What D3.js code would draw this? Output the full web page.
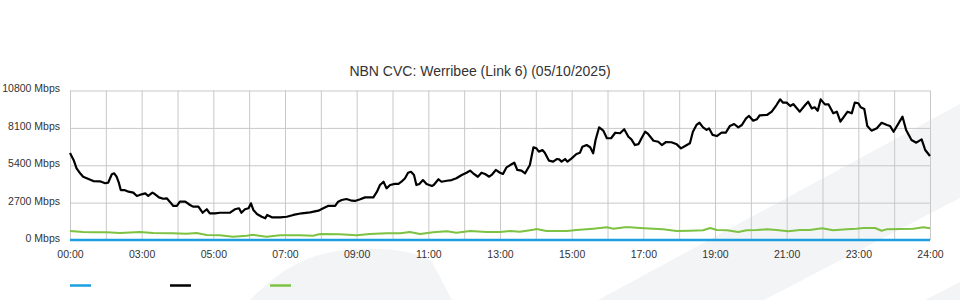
<!DOCTYPE html>
<html>
<head>
<meta charset="utf-8">
<script src="https://cdn.jsdelivr.net/npm/d3@7"></script>
<style>
  body { margin: 0; background: #fff; }
  svg { display: block; font-family: "Liberation Sans", Arial, sans-serif; }
  .grid line { stroke: #c8c8c8; stroke-width: 1; }
  .grid path { display: none; }
  .axis text { fill: #333; font-size: 10.5px; }
  .axis path, .axis line { display: none; }
</style>
</head>
<body>
<div class="canvas"></div>
<script>
// chart data (minutes since midnight, Mbps)
const title = 'NBN CVC: Werribee (Link 6) (05/10/2025)';

const blackMins = [0,6,11,17,22,31,39,50,59,64,70,74,78,82,85,91,98,106,112,120,126,131,138,142,149,156,162,167,173,179,
  184,193,201,206,215,222,229,234,243,251,262,268,276,283,287,293,299,303,307,313,321,327,330,338,352,363,374,388,402,416,
  424,432,444,449,455,463,472,477,486,494,508,514,519,525,530,536,544,550,555,561,566,571,576,580,585,591,597,606,609,617,
  622,631,639,647,656,664,670,675,683,689,695,702,706,713,720,725,731,740,744,749,756,762,770,776,781,785,791,795,802,809,
  815,819,823,829,833,840,848,854,858,865,871,876,880,886,893,899,906,913,921,928,935,940,946,952,957,963,968,977,985,991,
  998,1007,1016,1023,1030,1038,1043,1049,1054,1060,1066,1070,1076,1083,1091,1098,1105,1112,1119,1125,1132,1137,1144,1150,1155,1167,1175,1183,1189,1194,
  1200,1206,1211,1222,1231,1236,1242,1247,1252,1257,1264,1270,1278,1284,1290,1302,1309,1314,1320,1324,1330,1335,1342,1351,1359,1368,1373,1379,1389,1394,
  1400,1409,1417,1426,1432,1440];
const blackVals = [6280,5780,5180,4820,4570,4410,4260,4240,4100,4140,4750,4820,4570,4100,3610,3610,3490,3420,3180,3300,3370,3180,3420,3320,3080,2980,3010,2770,2460,2460,
  2770,2770,2530,2410,2410,1970,2220,1930,1930,1970,1970,1970,2220,2290,1970,2220,2290,2650,2170,1880,1680,1570,1810,1640,1640,1680,1810,1930,2000,2120,
  2290,2460,2460,2770,2890,2960,2840,2820,2940,3080,3080,3490,3970,4210,3730,3970,4050,4050,4210,4460,4860,4930,4700,3970,4050,4330,4050,3900,3970,4390,
  4210,4280,4330,4460,4700,4860,5010,4820,4570,4860,4770,4570,4700,5060,4860,4770,5250,5490,5580,5060,5010,4820,5420,6700,6620,6380,6500,6310,5730,5660,
  5850,5830,5660,5850,5660,5900,6210,6310,6740,6860,6700,6260,7220,8140,7900,7350,7350,7750,7710,8000,7460,7270,6860,6930,7350,7820,7660,7170,7100,6860,
  7080,7060,6910,6620,6790,6990,7820,8310,8470,8140,7950,8070,7590,7510,7750,7750,8240,8380,8140,8310,8790,8960,8620,8720,9010,9030,9270,9750,10160,9920,
  9920,9680,9820,9270,9750,9990,9510,9590,9340,10160,9800,9800,9150,9270,8550,9270,9150,9920,9880,9590,9460,8240,7900,8070,8470,8310,8240,7820,8550,8910,
  7950,7220,7030,7270,6500,6070];

const greenMins = [0,22,39,61,84,117,139,172,195,212,229,251,273,296,306,329,352,385,407,419,452,480,502,530,553,569,586,608,631,647,
  670,698,720,737,753,776,781,798,832,848,876,899,910,929,938,954,977,993,1016,1038,1060,1072,1083,1100,1119,1133,1150,1167,1183,1203,
  1222,1239,1259,1278,1301,1317,1328,1348,1359,1367,1390,1412,1429,1440];
const greenVals = [650,580,560,560,510,580,510,480,460,510,360,340,240,310,380,240,340,340,310,430,410,340,430,480,480,580,430,560,630,530,
  650,580,580,650,600,740,790,650,650,720,820,920,820,920,920,870,820,770,650,670,700,870,720,700,580,700,720,770,720,630,
  720,720,850,700,770,820,870,870,670,770,790,820,920,850];

const blueMins = [0,1440];
const blueVals = [0,0];

const yTicks = [0, 2700, 5400, 8100, 10800];
const xTickMins = [0,120,240,360,480,600,720,840,960,1080,1200,1320,1440];
const xTickLabels = ['00:00','03:00','05:00','07:00','09:00','11:00','13:00','15:00','17:00','19:00','21:00','23:00','24:00'];

const colors = { blue: '#1a9ee0', black: '#000000', green: '#7dc242' };

const dims = { width: 960, height: 300 };
const plot = { left: 70, right: 930, top: 90.5, bottom: 240 };

const svg = d3.select('.canvas')
  .append('svg')
  .attr('width', dims.width)
  .attr('height', dims.height);

// faint watermark shapes in the background
const bg = svg.append('g').attr('fill', '#f3f4f6');
bg.append('path').attr('d', 'M250,300 C275,275 300,255 345,250 C385,246 420,252 432,262 L452,300 Z');
bg.append('path').attr('d', 'M598,300 L960,104 L960,198 L764,300 Z');
bg.append('path').attr('d', 'M925,300 L960,282 L960,300 Z');

// scales
const x = d3.scaleLinear().domain([0, 1440]).range([plot.left, plot.right]);
const y = d3.scaleLinear().domain([0, 10800]).range([plot.bottom, plot.top]);

// vertical grid every hour
svg.append('g')
  .attr('class', 'grid')
  .attr('transform', `translate(0, ${plot.bottom})`)
  .call(d3.axisBottom(x).tickValues(d3.range(0, 1441, 60)).tickSize(-(plot.bottom - plot.top)).tickFormat(''));

// horizontal grid
svg.append('g')
  .attr('class', 'grid')
  .attr('transform', `translate(${plot.left}, 0)`)
  .call(d3.axisLeft(y).tickValues(yTicks).tickSize(-(plot.right - plot.left)).tickFormat(''));

// axes labels
svg.append('g')
  .attr('class', 'axis')
  .attr('transform', `translate(${plot.left - 7}, -2)`)
  .call(d3.axisLeft(y).tickValues(yTicks).tickSize(0).tickPadding(3).tickFormat(d => d + ' Mbps'));

svg.append('g')
  .attr('class', 'axis')
  .attr('transform', `translate(0, ${plot.bottom + 8})`)
  .call(d3.axisBottom(x).tickValues(xTickMins).tickSize(0).tickPadding(3).tickFormat((d, i) => xTickLabels[i]));

// title
svg.append('text')
  .attr('x', 480)
  .attr('y', 76)
  .attr('text-anchor', 'middle')
  .attr('fill', '#333')
  .style('font-size', '14px')
  .text(title);

const line = d3.line().x(d => x(d[0])).y(d => y(d[1]));

const series = [
  { key: 'green', mins: greenMins, vals: greenVals, width: 2 },
  { key: 'black', mins: blackMins, vals: blackVals, width: 2.2 },
  { key: 'blue', mins: blueMins, vals: blueVals, width: 2.5 }
];

svg.append('g')
  .selectAll('path')
  .data(series)
  .enter()
  .append('path')
  .attr('fill', 'none')
  .attr('stroke', d => colors[d.key])
  .attr('stroke-width', d => d.width)
  .attr('stroke-linejoin', 'round')
  .attr('d', d => line(d.mins.map((m, i) => [m, d.vals[i]])));

// legend swatches (no labels in the original)
const legendKeys = ['blue', 'black', 'green'];
svg.append('g')
  .selectAll('line')
  .data(legendKeys)
  .enter()
  .append('line')
  .attr('x1', (d, i) => 70 + i * 100)
  .attr('x2', (d, i) => 91 + i * 100)
  .attr('y1', 285.5)
  .attr('y2', 285.5)
  .attr('stroke', d => colors[d])
  .attr('stroke-width', 2.5);
</script>
</body>
</html>
